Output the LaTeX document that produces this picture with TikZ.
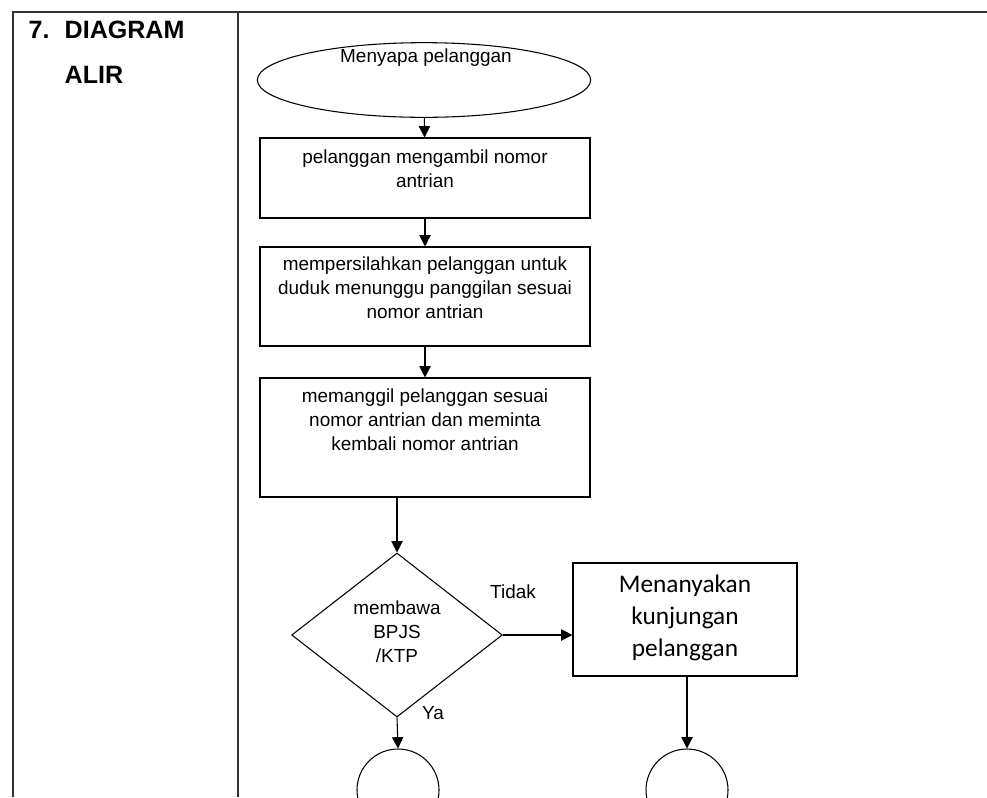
\documentclass[tikz,border=0pt]{standalone}
\usepackage{fontspec}
\setmainfont{Liberation Sans}
\newfontfamily\calibri{Carlito}
\usetikzlibrary{arrows.meta,shapes.geometric}
\tikzset{
  kotak/.style={draw, line width=0.8pt, minimum width=247.5pt, inner sep=0pt},
  teks/.style={align=center, inner sep=0pt, font=\fontsize{14.2}{18}\selectfont},
  panah/.style={-{Triangle[width=8.5pt,length=8.5pt]}, line width=0.8pt},
  garis/.style={line width=1.1pt, draw=black!80}
}
\begin{document}
\begin{tikzpicture}[x=0.75pt,y=-0.75pt]
  \clip (0,0) rectangle (987,797);
  % tabel
  \draw[garis] (13,797) -- (13,12) -- (987,12);
  \draw[garis] (238,12) -- (238,797);
  \node[anchor=west, font=\fontsize{18.8}{22}\selectfont\bfseries] (no) at (24,30) {7.};
  \node[anchor=west, font=\fontsize{18.8}{22}\selectfont\bfseries] (judul1) at (60,30) {DIAGRAM};
  \node[anchor=west, font=\fontsize{18.8}{22}\selectfont\bfseries] (judul2) at (60,75) {ALIR};
  % bentuk
  \draw
    (424,80) node[ellipse, draw, line width=0.8pt, minimum width=250pt, minimum height=56pt] (sapa){}
    (425,178) node[kotak, minimum height=60pt] (ambil){}
    (425,296.5) node[kotak, minimum height=74.25pt] (duduk){}
    (425,437.5) node[kotak, minimum height=89.25pt] (panggil){}
    (397,635) node[diamond, draw, line width=0.8pt, inner sep=0pt, minimum width=158pt, minimum height=123pt] (bawa){}
    (685,619.5) node[kotak, minimum width=168pt, minimum height=84.75pt] (tanya){}
    (398,790) node[circle, draw, line width=0.8pt, minimum size=61.5pt] (ya){}
    (687,790) node[circle, draw, line width=0.8pt, minimum size=61.5pt] (tidak){};
  % teks
  \node[teks] (t0) at (426,58) {Menyapa pelanggan};
  \node[teks, anchor=north] (t1) at (425,150) {pelanggan mengambil nomor\\antrian};
  \node[teks, anchor=north] (t2) at (425,257) {mempersilahkan pelanggan untuk\\duduk menunggu panggilan sesuai\\nomor antrian};
  \node[teks, anchor=north] (t3) at (425,389) {memanggil pelanggan sesuai\\nomor antrian dan meminta\\kembali nomor antrian};
  \node[teks, anchor=north] (t4) at (397,600) {membawa\\BPJS\\/KTP};
  \node[align=center, inner sep=0pt, anchor=north, font=\calibri\fontsize{19}{24}\selectfont] (t5) at (685,575) {Menanyakan\\kunjungan\\pelanggan};
  \node[teks] (lTidak) at (513,592) {Tidak};
  \node[teks] (lYa) at (433,713) {Ya};
  % panah
  \begin{scope}[panah]
    \draw (sapa) to (ambil);
    \draw (ambil) to (duduk);
    \draw (duduk) to (panggil);
    \draw (bawa.north |- panggil.south) to (bawa.north);
    \draw (bawa.east) to (bawa.east -| tanya.west);
    \draw (bawa.south) to (ya.north);
    \draw (tanya.south -| tidak.north) to (tidak.north);
  \end{scope}
\end{tikzpicture}
\end{document}
